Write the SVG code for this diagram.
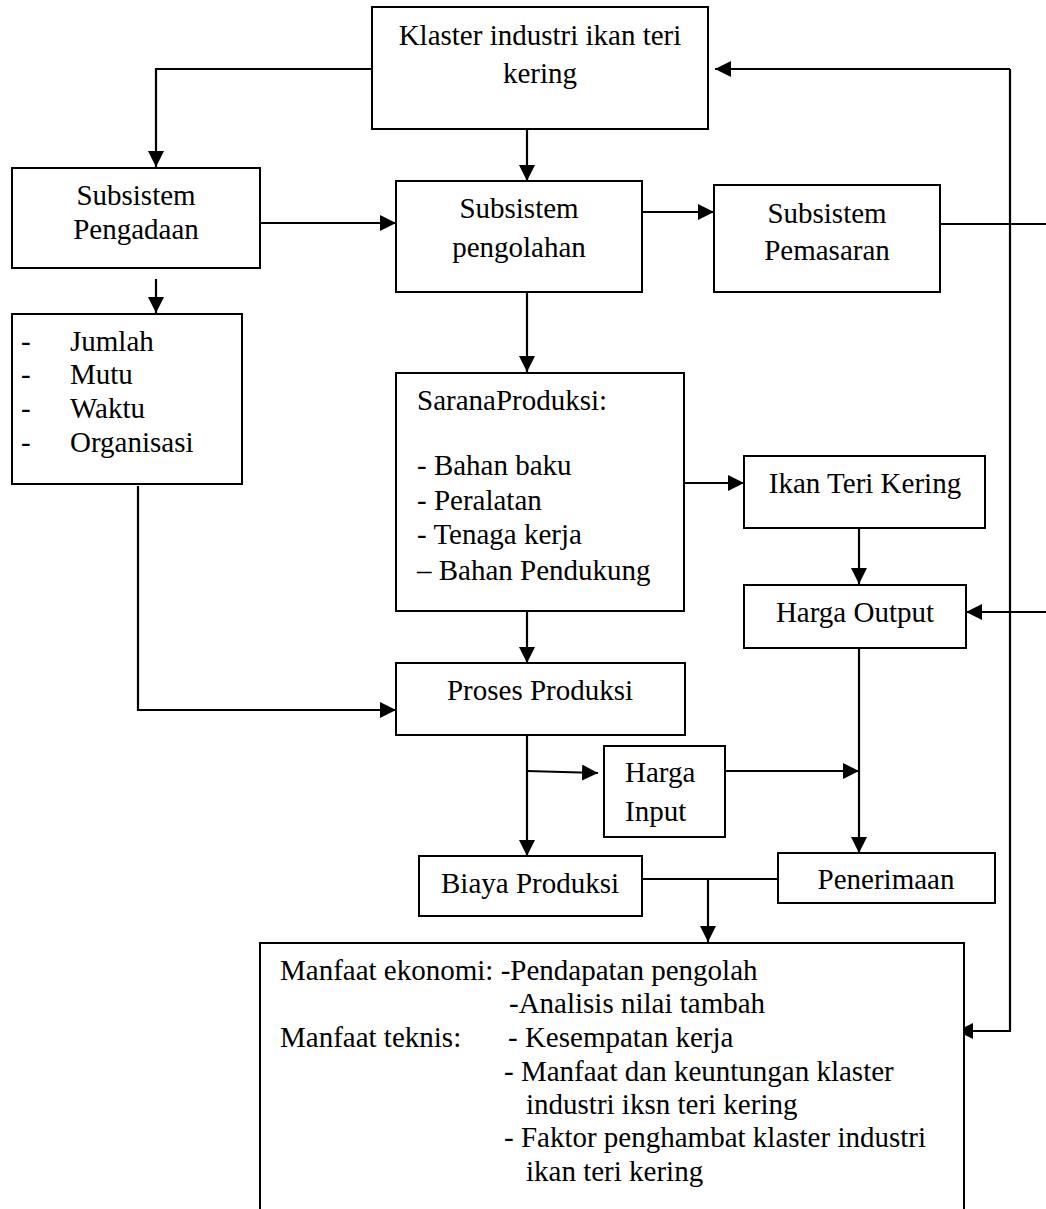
<svg xmlns="http://www.w3.org/2000/svg" width="1046" height="1209" viewBox="0 0 1046 1209">
<style>
.box{fill:#fff;stroke:#000;stroke-width:2}
.c{text-anchor:middle}
.ln{fill:none;stroke:#000;stroke-width:2.2}
.ar{marker-end:url(#ah)}
</style>
<defs>
<marker id="ah" markerUnits="userSpaceOnUse" markerWidth="16" markerHeight="16" refX="16" refY="8" orient="auto">
<path d="M0,0 L16,8 L0,16 z" fill="#000"/>
</marker>
</defs>
<rect width="1046" height="1209" fill="#fff"/>
<g id="connectors">
<path class="ln ar" d="M372,69 H156 V167"/>
<path class="ln ar" d="M527,117 V181"/>
<path class="ln ar" d="M1010,69 H715"/>
<path class="ln ar" d="M260,223 H396"/>
<path class="ln ar" d="M642,212 H714"/>
<path class="ln" d="M940,224 H1046"/>
<path class="ln ar" d="M156,279 V313"/>
<path class="ln ar" d="M527,292 V372"/>
<path class="ln ar" d="M684,483 H744"/>
<path class="ln ar" d="M859,528 V584"/>
<path class="ln ar" d="M1046,612 H966"/>
<path class="ln ar" d="M527,611 V663"/>
<path class="ln ar" d="M138,486 V710 H396"/>
<path class="ln ar" d="M527,735 V856"/>
<path class="ln ar" d="M527,771 L598,773"/>
<path class="ln ar" d="M725,771 H859"/>
<path class="ln ar" d="M859,648 V853"/>
<path class="ln" d="M642,879 H778"/>
<path class="ln ar" d="M708,879 V942"/>
<path class="ln ar" d="M1010,69 V1031 H957"/>
</g>
<g font-family="Liberation Serif, Tinos, Times New Roman, DejaVu Serif, serif" font-size="29" fill="#000">
<g id="klaster">
<rect class="box" x="372" y="7" width="336" height="122"/>
<text class="c" x="540" y="45">Klaster industri ikan teri</text>
<text class="c" x="540" y="83">kering</text>
</g>
<g id="pengadaan">
<rect class="box" x="12" y="168" width="248" height="100"/>
<text class="c" x="136" y="205">Subsistem</text>
<text class="c" x="136" y="239">Pengadaan</text>
</g>
<g id="pengolahan">
<rect class="box" x="396" y="181" width="246" height="111"/>
<text class="c" x="519" y="218">Subsistem</text>
<text class="c" x="519" y="257">pengolahan</text>
</g>
<g id="pemasaran">
<rect class="box" x="714" y="185" width="226" height="107"/>
<text class="c" x="827" y="223">Subsistem</text>
<text class="c" x="827" y="260">Pemasaran</text>
</g>
<g id="daftar">
<rect class="box" x="12" y="314" width="230" height="170"/>
<text x="21" y="351">-</text><text x="70" y="351">Jumlah</text>
<text x="21" y="384">-</text><text x="70" y="384">Mutu</text>
<text x="21" y="418">-</text><text x="70" y="418">Waktu</text>
<text x="21" y="452">-</text><text x="70" y="452">Organisasi</text>
</g>
<g id="sarana">
<rect class="box" x="396" y="373" width="288" height="238"/>
<text x="417" y="410">SaranaProduksi:</text>
<text x="417" y="475">- Bahan baku</text>
<text x="417" y="510">- Peralatan</text>
<text x="417" y="544">- Tenaga kerja</text>
<text x="417" y="580">– Bahan Pendukung</text>
</g>
<g id="ikan">
<rect class="box" x="744" y="456" width="241" height="72"/>
<text class="c" x="865" y="493">Ikan Teri Kering</text>
</g>
<g id="harga-output">
<rect class="box" x="744" y="585" width="222" height="63"/>
<text class="c" x="855" y="622">Harga Output</text>
</g>
<g id="proses">
<rect class="box" x="396" y="663" width="289" height="72"/>
<text class="c" x="540" y="700">Proses Produksi</text>
</g>
<g id="harga-input">
<rect class="box" x="604" y="746" width="121" height="91"/>
<text x="625" y="782">Harga</text>
<text x="625" y="821">Input</text>
</g>
<g id="biaya">
<rect class="box" x="419" y="856" width="223" height="60"/>
<text class="c" x="530" y="893">Biaya Produksi</text>
</g>
<g id="penerimaan">
<rect class="box" x="778" y="853" width="217" height="50"/>
<text class="c" x="886" y="889">Penerimaan</text>
</g>
<g id="manfaat">
<rect class="box" x="260" y="943" width="704" height="300"/>
<text x="280" y="980">Manfaat ekonomi: -Pendapatan pengolah</text>
<text x="509" y="1013">-Analisis nilai tambah</text>
<text x="280" y="1047">Manfaat teknis:</text>
<text x="508" y="1047">- Kesempatan kerja</text>
<text x="504" y="1081">- Manfaat dan keuntungan klaster</text>
<text x="526" y="1114">industri iksn teri kering</text>
<text x="504" y="1147">- Faktor penghambat klaster industri</text>
<text x="526" y="1181">ikan teri kering</text>
</g>
</g>
</svg>
